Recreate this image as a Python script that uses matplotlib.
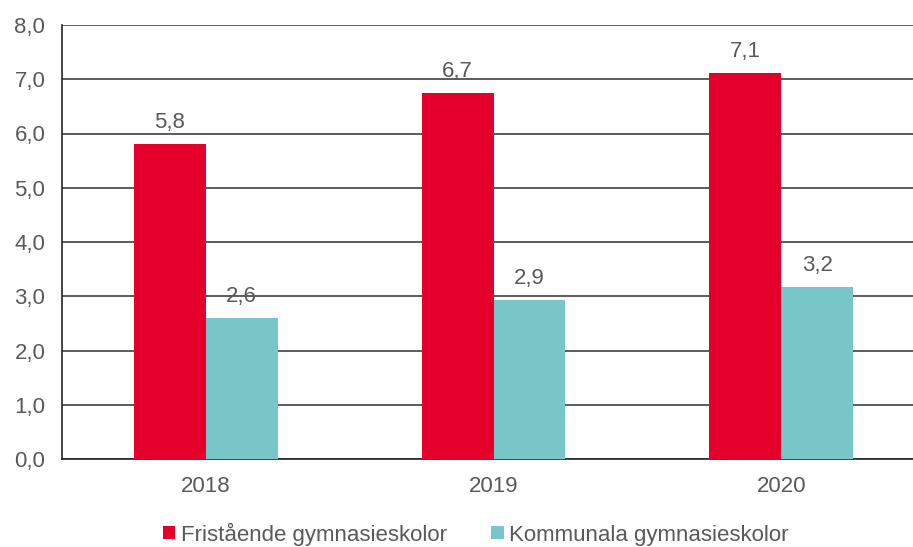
import matplotlib
matplotlib.use("Agg")
import matplotlib.pyplot as plt
import numpy as np

plt.rcParams['font.family'] = ['Liberation Sans', 'DejaVu Sans']

years = ["2018", "2019", "2020"]
fristaende = [5.8, 6.74, 7.11]
kommunala = [2.6, 2.93, 3.17]
series_names = ["Fristående gymnasieskolor", "Kommunala gymnasieskolor"]

red = "#E4002B"
teal = "#78C6C7"
txt = "#595959"
fs = 16

fig = plt.figure(figsize=(9.13, 5.47), dpi=100)
ax = fig.add_axes([62 / 913, 1 - 459 / 547, (925 - 62) / 913, (459 - 25) / 547])

x = np.arange(len(years))
w = 0.25
b1 = ax.bar(x - w / 2, fristaende, width=w, color=red, label=series_names[0], zorder=3)
b2 = ax.bar(x + w / 2, kommunala, width=w, color=teal, label=series_names[1], zorder=3)

for bars, vals in ((b1, fristaende), (b2, kommunala)):
    for bar, v in zip(bars, vals):
        ax.annotate(f"{v:.1f}".replace(".", ","),
                    (bar.get_x() + bar.get_width() / 2, v),
                    xytext=(0, 8), textcoords="offset points",
                    ha="center", va="bottom", fontsize=fs, color=txt)

ax.set_xlim(-0.5, 2.5)
ax.set_ylim(0, 8)
ax.set_yticks(np.arange(0, 9, 1))
ax.set_yticklabels([f"{v:.1f}".replace(".", ",") for v in np.arange(0, 9, 1)])
ax.set_xticks(x)
ax.set_xticklabels(years)
ax.tick_params(axis="both", length=0, labelsize=fs, labelcolor=txt)
ax.tick_params(axis="x", pad=12)
ax.tick_params(axis="y", pad=12)

ax.grid(axis="y", color="#404040", linewidth=1.2, zorder=0)
for s in ["top", "right"]:
    ax.spines[s].set_visible(False)
ax.spines["left"].set_color("#262626")
ax.spines["left"].set_linewidth(1.2)
ax.spines["bottom"].set_color("#262626")
ax.spines["bottom"].set_linewidth(1.2)

fig.legend(loc="center", bbox_to_anchor=(476 / 913, 1 - 534 / 547), ncol=2,
           frameon=False, fontsize=fs, labelcolor=txt,
           handlelength=0.55, handleheight=0.55, handletextpad=0.25,
           columnspacing=2.0, borderpad=0)

fig.savefig("out.png", dpi=100)
